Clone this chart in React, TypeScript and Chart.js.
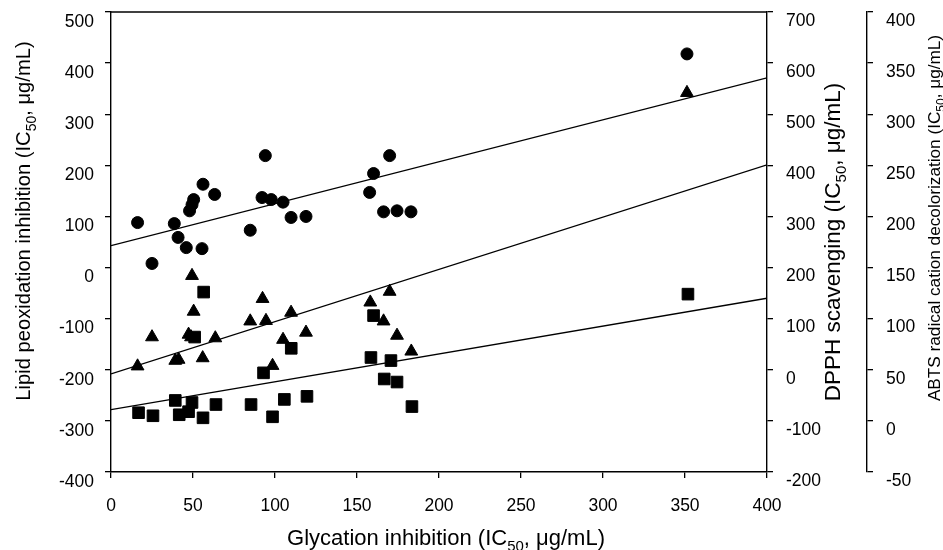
import React, { useEffect, useRef } from "react";
import { Chart, registerables } from "chart.js";

Chart.register(...registerables);

// ---- Data ----
const glycationCircles = [16.2, 25.0, 38.6, 40.9, 45.9, 47.9, 49.4, 50.4, 55.5, 56.1, 63.2, 84.9, 94.1, 92.1, 97.7, 104.9, 109.8, 118.9, 169.9, 160.1, 157.7, 166.2, 174.4, 182.9, 351.2];
const lipidValues = [88, 8, 86, 59, 39, 111, 123, 133, 37, 163, 143, 73, 219, 137, 133, 128, 98, 100, 219, 184, 147, 109, 111, 109, 418];

const glycationTriangles = [16.2, 25.0, 39.2, 41.2, 47.3, 48.8, 49.4, 50.4, 55.9, 63.6, 84.9, 92.4, 94.5, 98.5, 104.9, 109.8, 118.9, 158.1, 169.9, 166.2, 174.4, 183.1, 351.2];
const dpphValues = [7, 64, 18, 20, 69, 64, 184, 114, 23, 62, 95, 139, 96, 8, 59, 112, 73, 132, 153, 95, 67, 36, 542];

const glycationSquares = [16.8, 25.6, 39.2, 41.6, 47.3, 49.4, 51.0, 56.1, 56.5, 64.0, 85.4, 93.0, 98.5, 105.7, 109.9, 119.5, 158.5, 160.1, 166.6, 170.7, 174.4, 183.5, 351.8];
const abtsValues = [8, 5, 20, 6, 9, 18, 82, 3, 126, 16, 16, 47, 4, 21, 71, 24, 62, 103, 41, 59, 38, 14, 124];

const fitX = [0, 400];
const lipidFit = [43, 371];
const dpphFit = [-8, 401];
const abtsFit = [11, 120];

// axis ranges / tick steps
const xRange = [0, 400, 50];
const lipidRange = [-400, 500, 100];
const dpphRange = [-200, 700, 100];
const abtsRange = [-50, 400, 50];

// axis titles: [before subscript, subscript, after subscript]
const xTitle = ["Glycation inhibition (IC", "50", ", \u03bcg/mL)"];
const lipidTitle = ["Lipid peoxidation inhibition (IC", "50", ", \u03bcg/mL)"];
const dpphTitle = ["DPPH scavenging (IC", "50", ", \u03bcg/mL)"];
const abtsTitle = ["ABTS radical cation decolorization (IC", "50", ", \u03bcg/mL)"];

const FONT = '"Liberation Sans", Arial, Helvetica, sans-serif';
const TICK_SIZE = 17.5;

function pts(xs: number[], ys: number[]) {
  return xs.map((x, i) => ({ x, y: ys[i] }));
}

function drawRich(ctx: CanvasRenderingContext2D, parts: string[], cx: number, cy: number, rot: number, size: number) {
  const mainFont = `${size}px ${FONT}`;
  const subSize = Math.round(size * 0.68);
  const subFont = `${subSize}px ${FONT}`;
  ctx.save();
  ctx.translate(cx, cy);
  ctx.rotate(rot);
  ctx.fillStyle = "#000";
  ctx.textBaseline = "alphabetic";
  ctx.textAlign = "left";
  ctx.font = mainFont;
  const w0 = ctx.measureText(parts[0]).width;
  const w2 = ctx.measureText(parts[2]).width;
  ctx.font = subFont;
  const w1 = ctx.measureText(parts[1]).width;
  const total = w0 + w1 + w2;
  let x = -total / 2;
  const base = size * 0.35;
  ctx.font = mainFont;
  ctx.fillText(parts[0], x, base);
  x += w0;
  ctx.font = subFont;
  ctx.fillText(parts[1], x, base + size * 0.28);
  x += w1;
  ctx.font = mainFont;
  ctx.fillText(parts[2], x, base);
  ctx.restore();
}

const framePlugin = {
  id: "frameAndTitles",
  afterDraw(chart: any) {
    const ctx: CanvasRenderingContext2D = chart.ctx;
    const ca = chart.chartArea;
    ctx.save();
    ctx.strokeStyle = "#000";
    ctx.lineWidth = 1.4;
    ctx.beginPath();
    ctx.moveTo(ca.left, ca.top);
    ctx.lineTo(ca.right, ca.top);
    ctx.stroke();
    ctx.restore();
    drawRich(ctx, xTitle, 446, 537, 0, 22);
    drawRich(ctx, lipidTitle, 23, 221, -Math.PI / 2, 20.2);
    drawRich(ctx, dpphTitle, 832, 242, -Math.PI / 2, 22.5);
    drawRich(ctx, abtsTitle, 934, 218, -Math.PI / 2, 17.2);
  },
};

function axisCommon(range: number[], padding: number, labelOffset: number) {
  return {
    type: "linear" as const,
    min: range[0],
    max: range[1],
    ticks: {
      stepSize: range[2],
      color: "#000",
      font: { size: TICK_SIZE, family: FONT, lineHeight: 1.2 },
      padding,
      labelOffset,
    },
    grid: {
      drawOnChartArea: false,
      drawTicks: true,
      tickLength: 6,
      color: "#000",
      lineWidth: 1.3,
    },
    border: { display: true, color: "#000", width: 1.4 },
  };
}

function fixVertical(width: number) {
  return (s: any) => {
    s.width = width;
    s.paddingTop = 0;
    s.paddingBottom = 0;
  };
}

export default function App() {
  const ref = useRef<HTMLCanvasElement | null>(null);
  useEffect(() => {
    if (!ref.current) return;
    const markerCommon = { backgroundColor: "#000", borderColor: "#000", borderWidth: 1 };
    const lineCommon = {
      showLine: true,
      pointRadius: 0,
      borderColor: "#000",
      borderWidth: 1.3,
      backgroundColor: "#000",
      xAxisID: "x",
    };
    const chart = new Chart(ref.current, {
      type: "scatter",
      data: {
        datasets: [
          { label: "Lipid fit", data: pts(fitX, lipidFit), yAxisID: "y", ...lineCommon },
          { label: "DPPH fit", data: pts(fitX, dpphFit), yAxisID: "y2", ...lineCommon },
          { label: "ABTS fit", data: pts(fitX, abtsFit), yAxisID: "y3", ...lineCommon },
          { label: "Lipid", data: pts(glycationCircles, lipidValues), yAxisID: "y", pointStyle: "circle", pointRadius: 6, ...markerCommon },
          { label: "DPPH", data: pts(glycationTriangles, dpphValues), yAxisID: "y2", pointStyle: "triangle", pointRadius: 7.4, ...markerCommon },
          { label: "ABTS", data: pts(glycationSquares, abtsValues), yAxisID: "y3", pointStyle: "rect", pointRadius: 8.2, ...markerCommon },
        ] as any,
      },
      options: {
        animation: false,
        responsive: false,
        layout: { padding: { top: 12, left: 0, right: 0, bottom: 0 } },
        plugins: { legend: { display: false }, tooltip: { enabled: false } },
        scales: {
          x: {
            ...axisCommon(xRange, 18, 0),
            position: "bottom",
            afterFit: (s: any) => { s.height = 78; s.paddingLeft = 0; s.paddingRight = 0; },
          },
          y: {
            ...axisCommon(lipidRange, 11, 10),
            position: "left",
            afterFit: fixVertical(111),
          },
          y2: {
            ...axisCommon(dpphRange, 13, 9),
            position: "right",
            weight: 0,
            afterFit: fixVertical(100),
          },
          y3: {
            ...axisCommon(abtsRange, 13, 9),
            position: "right",
            weight: 1,
            afterFit: fixVertical(76),
          },
        } as any,
      },
      plugins: [framePlugin],
    });
    return () => chart.destroy();
  }, []);
  return (
    <div style={{ position: "absolute", left: 0, top: 0, width: 943, height: 550, background: "#fff" }}>
      <canvas ref={ref} width={943} height={550} style={{ display: "block", width: 943, height: 550 }} />
    </div>
  );
}
